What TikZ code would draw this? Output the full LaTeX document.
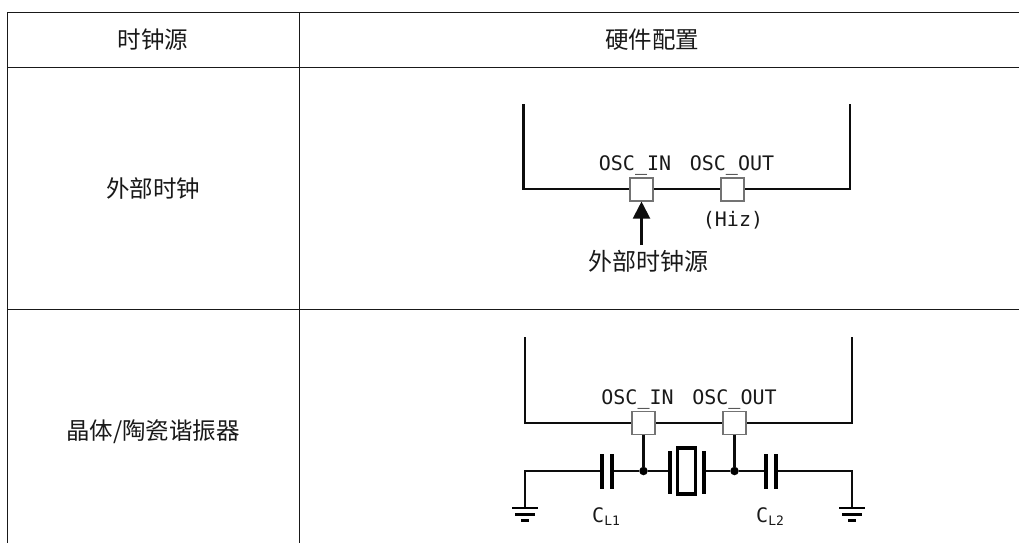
\documentclass[tikz,border=0pt]{standalone}
\usepackage{fontspec}
\setmainfont{DejaVu Sans Mono}
\newfontfamily\cjk{Noto Sans CJK SC}
\usetikzlibrary{arrows.meta}
\tikzset{
  rule/.style={line width=1.5pt,draw=black!90},
  wall/.style={line width=2.5pt,black!95},
  wire/.style={line width=2.1pt,black!95},
  plate/.style={line width=3.4pt,black},
  pin/.style={draw=black!55,fill=white,line width=1.1pt,minimum size=23pt,inner sep=0pt},
  dot/.style={circle,fill=black,minimum size=8.5pt,inner sep=0pt},
  head/.style={font=\cjk\fontsize{23.5}{27}\selectfont,inner sep=0pt,text=black!90},
  osc/.style={font=\fontsize{20}{24}\selectfont,inner sep=0pt,anchor=base,text=black!90},
  cname/.style={font=\fontsize{20}{24}\selectfont,inner sep=0pt,anchor=base west,text=black!90},
  gnd/.style={line width=2.8pt,black}
}
\newcommand{\lsub}[1]{\raisebox{-3pt}{\fontsize{13}{14}\selectfont #1}}
\begin{document}
\begin{tikzpicture}[x=1pt,y=-1pt]
\useasboundingbox (0,0) rectangle (1019,543);
% table
\coordinate (tl) at (7.3,12.5); \coordinate (tr) at (1019,12.5);
\coordinate (hl) at (7.3,67.5); \coordinate (hr) at (1019,67.5);
\coordinate (rl) at (7.3,309.3); \coordinate (rr) at (1019,309.3);
\coordinate (bl) at (7.3,543); \coordinate (ct) at (299.7,12.5); \coordinate (cb) at (299.7,543);
\draw[rule] (tl)--(tr); \draw[rule] (hl)--(hr); \draw[rule] (rl)--(rr);
\draw[rule] (tl)--(bl); \draw[rule] (ct)--(cb);
\node[head] at (153,40) {时钟源};
\node[head] at (652,40) {硬件配置};
\node[head] at (153,189) {外部时钟};
\node[head] at (153,431.5) {晶体/陶瓷谐振器};
% external clock
\coordinate (a1) at (523.5,104); \coordinate (a2) at (523.5,189);
\coordinate (a3) at (850,189); \coordinate (a4) at (850,104);
\draw[wall] (a1)--(a2)--(a3)--(a4);
\node[pin] (pa) at (641.5,189.5) {};
\node[pin] (pb) at (732.5,189.5) {};
\node[osc] at (635,170) {OSC\_IN};
\node[osc] at (732,170) {OSC\_OUT};
\node[osc] at (733,226.5) {(Hiz)};
\node[font=\cjk\fontsize{24}{28}\selectfont,inner sep=0pt,text=black!90] (src) at (648,261) {外部时钟源};
\coordinate (srcTop) at (641.5,245);
\draw[wire,-{Triangle[length=17pt,width=17pt]}] (srcTop)--(pa.south);
% crystal
\coordinate (b1) at (525,337); \coordinate (b2) at (525,423);
\coordinate (b3) at (852,423); \coordinate (b4) at (852,337);
\draw[wall] (b1)--(b2)--(b3)--(b4);
\node[pin] (pc) at (643.5,423) {};
\node[pin] (pd) at (734.5,423) {};
\node[osc] at (637.5,404) {OSC\_IN};
\node[osc] at (734.5,404) {OSC\_OUT};
\node[dot] (j1) at (643.5,471) {};
\node[dot] (j2) at (734.5,471) {};
\draw[wire] (pc.south)--(j1);
\draw[wire] (pd.south)--(j2);
\coordinate (gl) at (525,508); \coordinate (gr) at (852,508);
\coordinate (c1a) at (602,471); \coordinate (c1b) at (612,471);
\coordinate (c2a) at (766,471); \coordinate (c2b) at (776,471);
\coordinate (xa) at (670,471); \coordinate (xb) at (704,471);
\draw[wire] (gl)--(525,471)--(c1a); \draw[wire] (c1b)--(j1)--(xa);
\draw[wire] (xb)--(j2)--(c2a); \draw[wire] (c2b)--(852,471)--(gr);
\foreach \p in {c1a,c1b,c2a,c2b}{\draw[plate] ([yshift=-17.5pt]\p)--([yshift=17.5pt]\p);}
\draw[plate] (670,451)--(670,494); \draw[plate] (704,451)--(704,494);
\draw[line width=3.4pt] (677.5,448)rectangle(695.5,494);
\foreach \g in {gl,gr}{
  \draw[gnd] ([xshift=-13pt]\g)--([xshift=13pt]\g);
  \draw[gnd] ([xshift=-10pt,yshift=-6.5pt]\g)--([xshift=10pt,yshift=-6.5pt]\g);
  \draw[gnd] ([xshift=-4pt,yshift=-12.5pt]\g)--([xshift=4pt,yshift=-12.5pt]\g);
}
\node[cname] at (592,522) {C\lsub{L1}};
\node[cname] at (756,522) {C\lsub{L2}};
\end{tikzpicture}
\end{document}
